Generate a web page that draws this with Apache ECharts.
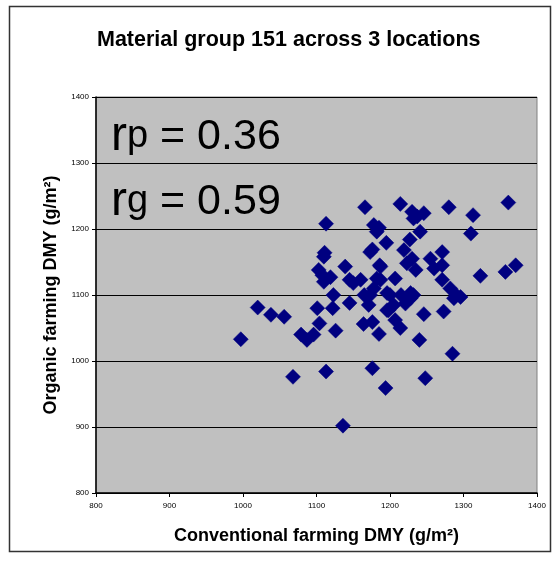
<!DOCTYPE html>
<html><head><meta charset="utf-8">
<script src="https://cdn.jsdelivr.net/npm/echarts@6/dist/echarts.min.js"></script>
<style>html,body{margin:0;padding:0;background:#fff}#c{width:560px;height:571px}</style>
</head><body><div id="c"></div>
<script>
const chartTitle = "Material group 151 across 3 locations";
const xAxisTitle = "Conventional farming DMY (g/m²)";
const yAxisTitle = "Organic farming DMY (g/m²)";
const rpLabel = ["r", "p", " = 0.36"];
const rgLabel = ["r", "g", " = 0.59"];
const axisMin = 800, axisMax = 1400, axisStep = 100;
const conventional = [997,1020,1038,1056,1068,1079,1087,1096,1104,1101,1113,1126,1122,1123,1136,1145,1113,1111,1110,1103,1108,1110,1119,1139,1145,1160,1166,1178,1185,1182,1195,1176,1173,1186,1182,1164,1176,1185,1171,1173,1196,1176,1194,1214,1230,1246,1237,1232,1280,1313,1361,1241,1310,1227,1219,1230,1223,1235,1255,1271,1271,1260,1187,1207,1187,1323,1357,1371,1271,1282,1296,1196,1228,1200,1228,1232,1221,1198,1246,1273,1287,1207,1214,1240,1285,1248,1205,1165,1150,1178,1215,1290];
const organic = [1033,1081,1070,1067,976,1040,1032,1040,1057,1080,984,1046,1080,1100,902,1088,1208,1164,1158,1138,1130,1120,1127,1143,1123,1123,1233,1206,1202,1196,1179,1169,1165,1145,1125,1056,1059,1041,1085,1100,1077,989,959,1238,1226,1224,1219,1216,1233,1221,1240,1196,1193,1184,1168,1155,1148,1138,1155,1165,1145,1140,1143,1125,1123,1129,1135,1145,1123,1110,1097,1103,1103,1100,1095,1100,1087,1077,1071,1075,1095,1062,1050,1032,1011,974,1085,1100,1118,1110,1100,1100];

const points = conventional.map((x, i) => [x, organic[i]]);
const chart = echarts.init(document.getElementById('c'), null, {renderer: 'canvas'});
const FONT = '"Liberation Sans", Arial, sans-serif';
const plain = v => String(v);
const bigRich = {
  r: {fontFamily: FONT, fontSize: 48, color: '#000'},
  s: {fontFamily: FONT, fontSize: 38, color: '#000'},
  n: {fontFamily: FONT, fontSize: 43, color: '#000'}
};
chart.setOption({
  animation: false,
  backgroundColor: '#ffffff',
  title: {
    text: chartTitle, left: 92, top: 24,
    textStyle: {fontFamily: FONT, fontSize: 21.5, fontWeight: 'bold', color: '#000'}
  },
  grid: {
    left: 96, right: 23, top: 97, bottom: 78,
    show: true, backgroundColor: '#c0c0c0', borderColor: '#808080', borderWidth: 1
  },
  xAxis: {
    type: 'value', min: axisMin, max: axisMax, interval: axisStep,
    name: xAxisTitle, nameLocation: 'middle', nameGap: 34,
    nameTextStyle: {fontFamily: FONT, fontSize: 18, fontWeight: 'bold', color: '#000'},
    axisLine: {show: true, onZero: false, lineStyle: {color: '#000', width: 1.5}},
    axisTick: {show: true, length: 4, lineStyle: {color: '#000'}},
    axisLabel: {fontFamily: FONT, fontSize: 8, color: '#000', margin: 9, formatter: plain},
    splitLine: {show: false}
  },
  yAxis: {
    type: 'value', min: axisMin, max: axisMax, interval: axisStep,
    name: yAxisTitle, nameLocation: 'middle', nameGap: 36, nameRotate: 90,
    nameTextStyle: {fontFamily: FONT, fontSize: 18, fontWeight: 'bold', color: '#000'},
    axisLine: {show: true, onZero: false, lineStyle: {color: '#000', width: 1.5}},
    axisTick: {show: true, length: 4, lineStyle: {color: '#000'}},
    axisLabel: {fontFamily: FONT, fontSize: 8, color: '#000', margin: 7, formatter: plain},
    splitLine: {show: true, lineStyle: {color: '#000', width: 1}}
  },
  graphic: [
    {type: 'rect', shape: {x: 9.5, y: 6.5, width: 541, height: 545}, style: {fill: 'none', stroke: '#333', lineWidth: 1.5}, z: -1},
    {type: 'text', left: 111, top: 113, z: 100, style: {
      text: '{r|' + rpLabel[0] + '}{s|' + rpLabel[1] + '}{n|' + rpLabel[2] + '}', rich: bigRich
    }},
    {type: 'text', left: 111, top: 178, z: 100, style: {
      text: '{r|' + rgLabel[0] + '}{s|' + rgLabel[1] + '}{n|' + rgLabel[2] + '}', rich: bigRich
    }}
  ],
  series: [{
    type: 'scatter', data: points, symbol: 'diamond', symbolSize: 15,
    itemStyle: {color: '#000080', opacity: 1, borderColor: '#000080', borderWidth: 0.5}
  }]
});
</script></body></html>
